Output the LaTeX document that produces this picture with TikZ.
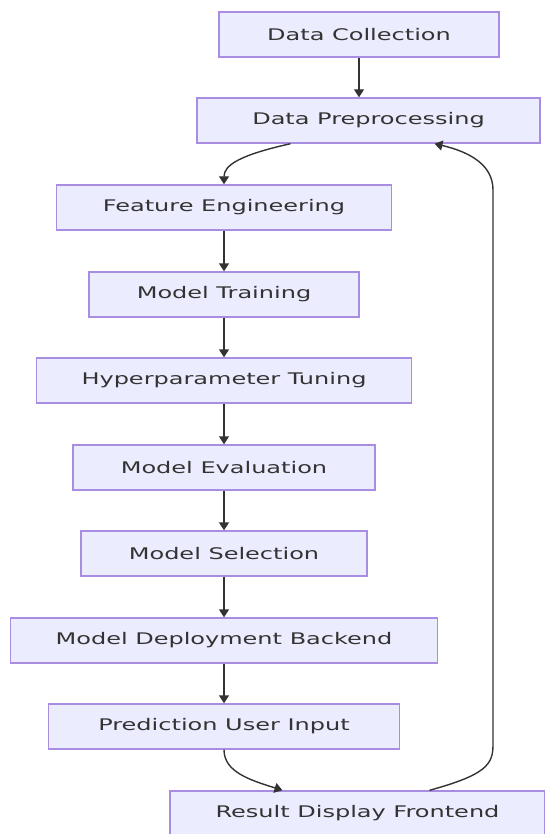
\documentclass[tikz,border=0pt]{standalone}
\usepackage{fontspec}
\setmainfont[FakeStretch=1.5]{DejaVu Sans}
\usetikzlibrary{arrows.meta}
\definecolor{boxfill}{HTML}{ECECFF}
\definecolor{boxline}{HTML}{9370DB}
\definecolor{ink}{HTML}{333333}

\begin{document}
\begin{tikzpicture}[x=1pt,y=-1pt,
    stage/.style={draw=boxline!80,fill=boxfill,line width=1.4pt,text=ink,
      font=\fontsize{16}{19}\selectfont,minimum height=45pt,inner sep=0pt},
    flow/.style={draw=ink,line width=1.4pt,-{Triangle[length=8pt,width=10pt]}}]
        \useasboundingbox (0,0) rectangle (545,834);
        % pipeline boxes
        \node[stage,minimum width=280pt] (collect) at (359,34.5) {Data Collection};
        \node[stage,minimum width=343pt] (prep) at (368.5,120.5) {Data Preprocessing};
        \node[stage,minimum width=335pt] (feature) at (224,207.5) {Feature Engineering};
        \node[stage,minimum width=270pt] (train) at (224,294.5) {Model Training};
        \node[stage,minimum width=375pt] (tune) at (224,380.5) {Hyperparameter Tuning};
        \node[stage,minimum width=302pt] (evaluate) at (224,467.5) {Model Evaluation};
        \node[stage,minimum width=286pt] (select) at (224,553.5) {Model Selection};
        \node[stage,minimum width=427pt] (deploy) at (224,640.5) {Model Deployment Backend};
        \node[stage,minimum width=351pt] (predict) at (224,726.5) {Prediction User Input};
        \node[stage,minimum width=375pt] (result) at (357.5,813.5) {Result Display Frontend};
        % connectors
        \draw[flow] (collect.south) -- (collect.south |- prep.north);
        \draw[flow] ([xshift=-78pt]prep.south) .. controls (240,155) and (224,165) .. (feature.north);
        \foreach \From/\To in {feature/train, train/tune, tune/evaluate, evaluate/select, select/deploy, deploy/predict}
        \draw[flow] (\From) -- (\To);
        \draw[flow] (predict.south) .. controls (224,772) and (250,780) .. ([xshift=-75pt]result.north);
        \draw[flow] ([xshift=72pt]result.north) .. controls (485,775) and (493,765) .. (493,745)
            -- (493,190) .. controls (493,165) and (470,152) .. ([xshift=66pt]prep.south);
\end{tikzpicture}
\end{document}
